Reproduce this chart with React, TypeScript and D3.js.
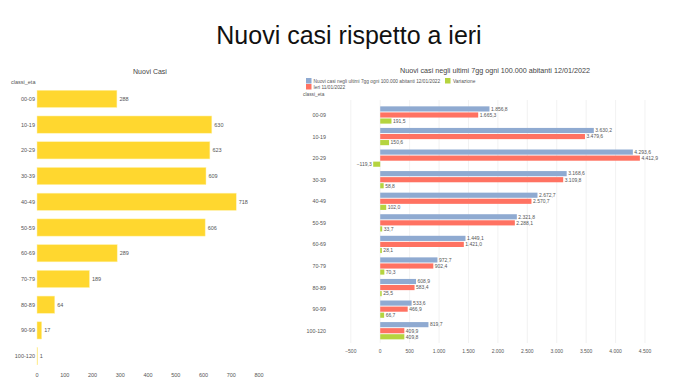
import React from "react";
import * as d3 from "d3";

const categories = ["00-09", "10-19", "20-29", "30-39", "40-49", "50-59", "60-69", "70-79", "80-89", "90-99", "100-120"];
const nuoviCasi = [288, 630, 623, 609, 718, 606, 289, 189, 64, 17, 1];
const leftTicks = [0, 100, 200, 300, 400, 500, 600, 700, 800];

const seriesNames = ["Nuovi casi negli ultimi 7gg ogni 100.000 abitanti 12/01/2022", "Ieri 11/01/2022", "Variazione"];
const oggi = [1856.8, 3630.2, 4293.6, 3168.6, 2672.7, 2321.8, 1449.1, 972.7, 608.9, 533.6, 819.7];
const ieri = [1665.3, 3479.6, 4412.9, 3109.8, 2570.7, 2288.1, 1421.0, 902.4, 583.4, 466.9, 409.9];
const variazione = [191.5, 150.6, -119.3, 58.8, 102.0, 33.7, 28.1, 70.3, 25.5, 66.7, 409.8];
const rightTicks = [-500, 0, 500, 1000, 1500, 2000, 2500, 3000, 3500, 4000, 4500];
const seriesColors = ["#8FAAD1", "#FF7262", "#B5D43F"];

const it = d3.formatLocale({ decimal: ",", thousands: ".", grouping: [3], currency: ["", "€"] });
const fmt1 = it.format(",.1f");
const fmt0 = it.format(",d");

export default function App() {
  const font = "Liberation Sans, Arial, sans-serif";
  const gray = "#555";

  // Left chart
  const xL = d3.scaleLinear().domain([0, 800]).range([37, 259]);
  const yL = d3.scaleBand().domain(categories).range([86, 369]).paddingInner(0.33).paddingOuter(0.165);

  // Right chart
  const xR = d3.scaleLinear().domain([-500, 4500]).range([350.8, 645]);
  const yR = d3.scaleBand().domain(categories).range([104.2, 341.5]).paddingInner(0.2).paddingOuter(0.1);
  const sub = d3.scaleBand().domain(["0", "1", "2"]).range([0, yR.bandwidth()]).paddingInner(0.15);
  const seriesData = [oggi, ieri, variazione];

  return (
    <svg width={680} height={385} style={{ position: "absolute", left: 0, top: 0, background: "#fff" }} fontFamily={font}>
      <text x={349} y={44} textAnchor="middle" fontSize={25} fill="#111">Nuovi casi rispetto a ieri</text>

      {/* Left chart */}
      <text x={150} y={74} textAnchor="middle" fontSize={7} fill="#444">Nuovi Casi</text>
      <text x={11} y={84} fontSize={5.5} fill={gray}>classi_eta</text>
      {categories.map((c, i) => (
        <g key={c}>
          <text x={35} y={(yL(c) as number) + yL.bandwidth() / 2 + 2} textAnchor="end" fontSize={5.5} fill={gray}>{c}</text>
          <rect x={xL(0)} y={yL(c)} width={Math.max(0.6, xL(nuoviCasi[i]) - xL(0))} height={yL.bandwidth()} fill="#FFD72F" stroke="#FFF3B0" strokeWidth={0.5} />
          <text x={xL(nuoviCasi[i]) + 2.5} y={(yL(c) as number) + yL.bandwidth() / 2 + 2} fontSize={5.5} fill={gray}>{fmt0(nuoviCasi[i])}</text>
        </g>
      ))}
      {leftTicks.map((t) => (
        <text key={t} x={xL(t)} y={377} textAnchor="middle" fontSize={5.5} fill={gray}>{fmt0(t)}</text>
      ))}

      {/* Right chart */}
      <text x={495} y={73} textAnchor="middle" fontSize={7.2} fill="#444">Nuovi casi negli ultimi 7gg ogni 100.000 abitanti 12/01/2022</text>
      <rect x={306} y={78} width={5.5} height={5.5} fill={seriesColors[0]} />
      <text x={313.5} y={82.8} fontSize={4.8} fill={gray}>{seriesNames[0]}</text>
      <rect x={306} y={84} width={5.5} height={5.5} fill={seriesColors[1]} />
      <text x={313.5} y={88.8} fontSize={4.8} fill={gray}>{seriesNames[1]}</text>
      <rect x={445} y={78} width={5.5} height={5.5} fill={seriesColors[2]} />
      <text x={453} y={82.8} fontSize={4.8} fill={gray}>{seriesNames[2]}</text>
      <text x={303} y={96} fontSize={4.8} fill={gray}>classi_eta</text>

      {rightTicks.map((t) => (
        <g key={t}>
          <line x1={xR(t)} x2={xR(t)} y1={100} y2={343} stroke="#ECECEC" strokeWidth={0.7} />
          <text x={xR(t)} y={353} textAnchor="middle" fontSize={5} fill={gray}>{fmt0(t)}</text>
        </g>
      ))}
      {categories.map((c, i) => (
        <g key={c}>
          <text x={326} y={(yR(c) as number) + yR.bandwidth() / 2 + 2} textAnchor="end" fontSize={5.3} fill={gray}>{c}</text>
          {seriesData.map((s, k) => {
            const v = s[i];
            const y0 = (yR(c) as number) + (sub(String(k)) as number);
            const x0 = xR(Math.min(0, v));
            const w = Math.abs(xR(v) - xR(0));
            const neg = v < 0;
            return (
              <g key={k}>
                <rect x={x0} y={y0} width={w} height={sub.bandwidth()} fill={seriesColors[k]} />
                <text x={neg ? xR(v) - 1.5 : xR(v) + 1.5} y={y0 + sub.bandwidth() / 2 + 1.8} textAnchor={neg ? "end" : "start"} fontSize={5} fill={gray}>{fmt1(v)}</text>
              </g>
            );
          })}
        </g>
      ))}
    </svg>
  );
}
